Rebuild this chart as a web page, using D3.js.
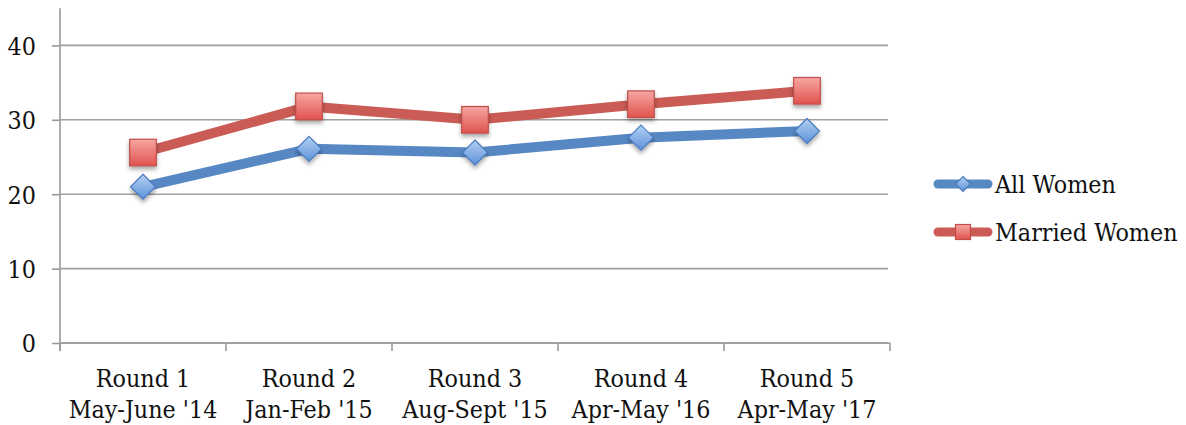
<!DOCTYPE html>
<html>
<head>
<meta charset="utf-8">
<script src="https://cdn.jsdelivr.net/npm/d3@7"></script>
<style>
  html, body { margin: 0; padding: 0; background: #fff; }
  svg { display: block; }
  text { font-family: "DejaVu Serif Condensed", "DejaVu Serif", serif; fill: #111; }
</style>
</head>
<body>
<svg id="chart" width="1186" height="425"></svg>
<script>
// Survey rounds (two-line category labels)
const roundNames = ["Round 1", "Round 2", "Round 3", "Round 4", "Round 5"];
const roundDates = ["May-June '14", "Jan-Feb '15", "Aug-Sept '15", "Apr-May '16", "Apr-May '17"];

// Series values (percent)
const allWomen = [21.0, 26.1, 25.6, 27.6, 28.5];
const marriedWomen = [25.6, 31.8, 30.0, 32.1, 33.9];

const yTicks = [0, 10, 20, 30, 40];
const seriesNames = ["All Women", "Married Women"];

const FONT = 24.8;
const svg = d3.select("#chart");
const margin = { left: 60 };

const x = d3.scaleBand().domain(roundNames).range([margin.left, 890]).paddingInner(0).paddingOuter(0);
const y = d3.scaleLinear().domain([0, 45]).range([343, 343 - 45 * 7.44]);

const defs = svg.append("defs");
const shadow = defs.append("filter").attr("id", "shadow")
  .attr("x", "-50%").attr("y", "-50%").attr("width", "200%").attr("height", "200%");
shadow.append("feGaussianBlur").attr("in", "SourceAlpha").attr("stdDeviation", 2.2).attr("result", "b");
shadow.append("feOffset").attr("in", "b").attr("dy", 3).attr("result", "o");
shadow.append("feComponentTransfer").attr("in", "o").attr("result", "s")
  .append("feFuncA").attr("type", "linear").attr("slope", 0.35);
const merge = shadow.append("feMerge");
merge.append("feMergeNode").attr("in", "s");
merge.append("feMergeNode").attr("in", "SourceGraphic");

function grad(id, top, bottom) {
  const g = defs.append("linearGradient").attr("id", id).attr("x1", 0).attr("y1", 0).attr("x2", 0).attr("y2", 1);
  g.append("stop").attr("offset", "0%").attr("stop-color", top);
  g.append("stop").attr("offset", "100%").attr("stop-color", bottom);
}
grad("gBlue", "#b4d0f4", "#5d92d8");
grad("gRed", "#f6a7a3", "#e0534e");

// Gridlines
svg.append("g").selectAll("line").data(yTicks).join("line")
  .attr("x1", margin.left).attr("x2", 888)
  .attr("y1", d => y(d)).attr("y2", d => y(d))
  .attr("stroke", "#a0a0a0").attr("stroke-width", 1.6);

// Y axis
const yAxis = svg.append("g").attr("transform", `translate(${margin.left},0)`)
  .call(d3.axisLeft(y).tickValues(yTicks).tickSize(8).tickPadding(16).tickFormat(d3.format("d")));
yAxis.select(".domain").attr("d", `M0,${y(45)}V${y(0) + 8}`).attr("stroke", "#999").attr("stroke-width", 1.6);
yAxis.selectAll(".tick line").attr("stroke", "#999").attr("stroke-width", 1.6);
yAxis.selectAll(".tick text").attr("font-size", FONT).attr("font-family", null).attr("fill", "#111").attr("dy", "0.36em");

// X axis line and boundary ticks
const xg = svg.append("g");
xg.append("line").attr("x1", margin.left).attr("x2", 890).attr("y1", y(0)).attr("y2", y(0))
  .attr("stroke", "#999").attr("stroke-width", 1.6);
const bounds = roundNames.map(d => x(d)).concat([x(roundNames[4]) + x.bandwidth()]);
xg.selectAll("line.tk").data(bounds).join("line").attr("class", "tk")
  .attr("x1", d => d).attr("x2", d => d).attr("y1", y(0)).attr("y2", y(0) + 8)
  .attr("stroke", "#999").attr("stroke-width", 1.6);

// Category labels
const lbl = xg.selectAll("text.cat").data(roundNames).join("text").attr("class", "cat")
  .attr("x", d => x(d) + x.bandwidth() / 2).attr("text-anchor", "middle").attr("font-size", FONT);
lbl.append("tspan").attr("x", d => x(d) + x.bandwidth() / 2).attr("y", 387).text(d => d);
lbl.append("tspan").attr("x", d => x(d) + x.bandwidth() / 2).attr("y", 418).text((d, i) => roundDates[i]);

const cx = i => x(roundNames[i]) + x.bandwidth() / 2;
const line = d3.line().x((d, i) => cx(i)).y(d => y(d));

const series = [
  { name: seriesNames[0], values: allWomen, color: "#5888c4", stroke: "#4a7bbf", fill: "url(#gBlue)", shape: "diamond" },
  { name: seriesNames[1], values: marriedWomen, color: "#cb5b55", stroke: "#c24d48", fill: "url(#gRed)", shape: "square" }
];

function marker(g, s, px, py, size) {
  if (s.shape === "diamond") {
    const r = size;
    g.append("path").attr("d", `M${px},${py - r}L${px + r},${py}L${px},${py + r}L${px - r},${py}Z`)
      .attr("fill", s.fill).attr("stroke", s.stroke).attr("stroke-width", 1.2);
  } else {
    const h = size;
    g.append("rect").attr("x", px - h).attr("y", py - h).attr("width", 2 * h).attr("height", 2 * h)
      .attr("fill", s.fill).attr("stroke", s.stroke).attr("stroke-width", 1.2);
  }
}

series.forEach(s => {
  svg.append("path").datum(s.values).attr("d", line)
    .attr("fill", "none").attr("stroke", s.color).attr("stroke-width", 10)
    .attr("stroke-linejoin", "round");
});
series.forEach(s => {
  const g = svg.append("g").attr("filter", "url(#shadow)");
  s.values.forEach((v, i) => marker(g, s, cx(i), y(v), s.shape === "diamond" ? 12.5 : 13.3));
});

// Legend
const leg = svg.append("g");
series.forEach((s, i) => {
  const ly = 184 + i * 48;
  leg.append("line").attr("x1", 938).attr("x2", 988).attr("y1", ly).attr("y2", ly)
    .attr("stroke", s.color).attr("stroke-width", 9).attr("stroke-linecap", "round");
  marker(leg, s, 963, ly, 7.5);
  leg.append("text").attr("x", 995).attr("y", ly).attr("dy", "0.36em").attr("font-size", FONT).text(s.name);
});
</script>
</body>
</html>
